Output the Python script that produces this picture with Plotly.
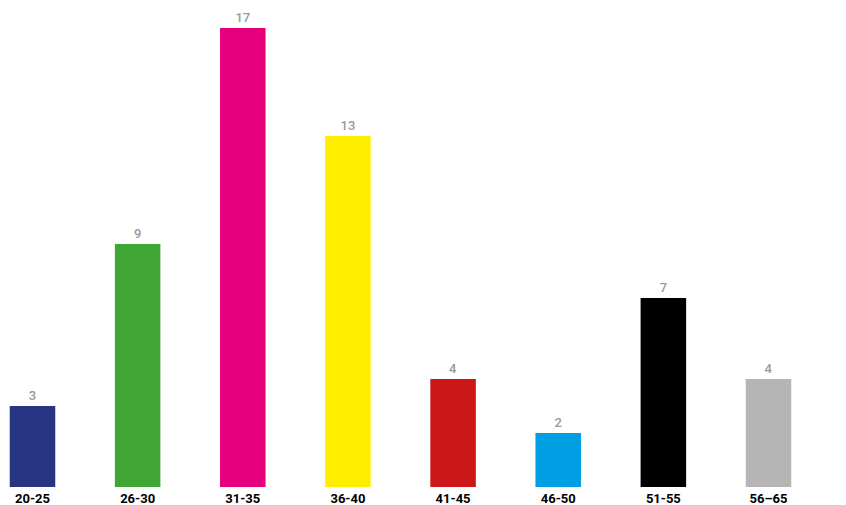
import plotly.graph_objects as go

categories = ["20-25", "26-30", "31-35", "36-40", "41-45", "46-50", "51-55", "56–65"]
values = [3, 9, 17, 13, 4, 2, 7, 4]
colors = ["#283583", "#3fa535", "#e6007e", "#ffed00", "#cc1719", "#009fe3", "#000000", "#b5b5b5"]

fig = go.Figure(go.Bar(
    x=categories,
    y=values,
    marker=dict(color=colors, line=dict(width=0)),
    width=0.433,
    text=[str(v) for v in values],
    textposition="outside",
    textfont=dict(color="#999999", size=13, family="Roboto", weight=500),
    cliponaxis=False,
))

fig.update_layout(
    width=846, height=505,
    margin=dict(l=0, r=0, t=0, b=18),
    plot_bgcolor="white", paper_bgcolor="white",
    showlegend=False,
    xaxis=dict(range=[-0.309, 7.737], showgrid=False, zeroline=False, showline=False,
               ticks="", ticklabelstandoff=2,
               tickfont=dict(family="Roboto", size=13, color="#000000", weight="bold")),
    yaxis=dict(range=[0, 487/27], visible=False),
)

fig.write_html("out.html")
